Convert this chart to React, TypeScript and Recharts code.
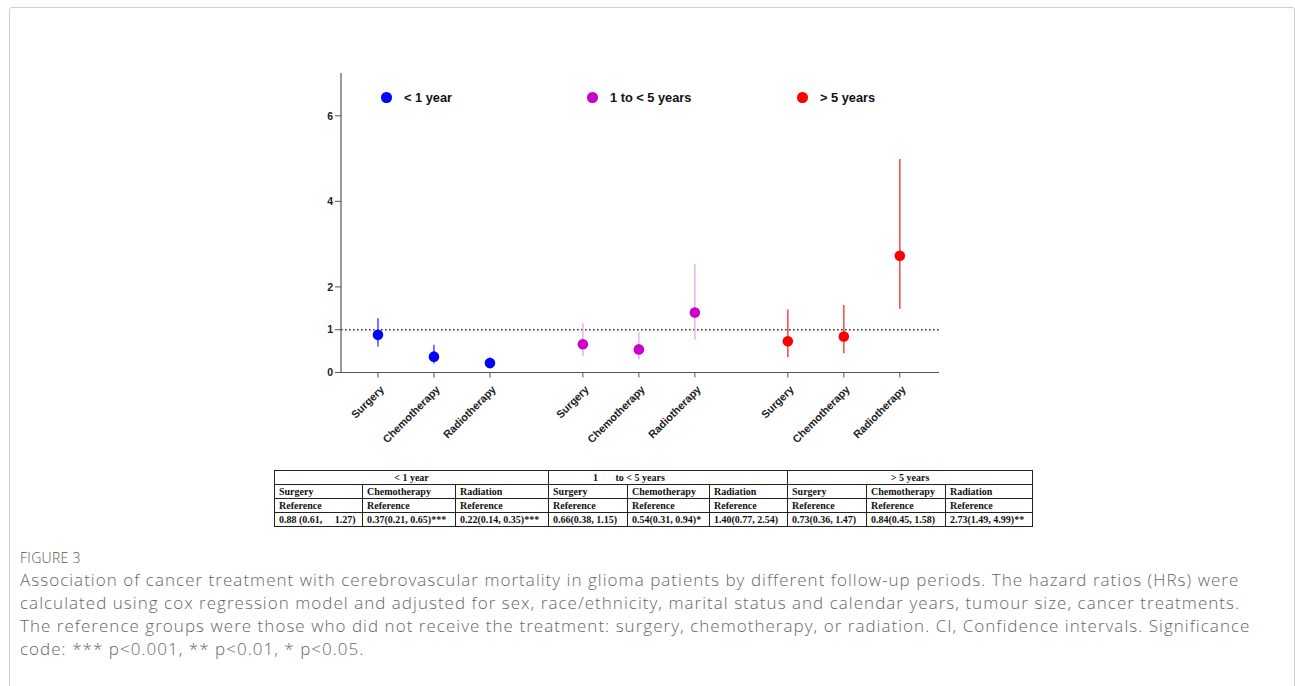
import React from "react";
import {
  ScatterChart,
  Scatter,
  XAxis,
  YAxis,
  ErrorBar,
  ReferenceLine,
  Legend,
} from "recharts";

// follow-up periods and treatments
const periods = ["< 1 year", "1 to < 5 years", "> 5 years"];
const treatments = ["Surgery", "Chemotherapy", "Radiotherapy"];

// hazard ratios with 95% CI, one array per period
const hrUnder1 = [0.88, 0.37, 0.22];
const lowUnder1 = [0.61, 0.21, 0.14];
const highUnder1 = [1.27, 0.65, 0.35];

const hr1to5 = [0.66, 0.54, 1.4];
const low1to5 = [0.38, 0.31, 0.77];
const high1to5 = [1.15, 0.94, 2.54];

const hrOver5 = [0.73, 0.84, 2.73];
const lowOver5 = [0.36, 0.45, 1.49];
const highOver5 = [1.47, 1.58, 4.99];

const yTicks = [0, 1, 2, 4, 6];

// table under the plot
const tableCols = ["Surgery", "Chemotherapy", "Radiation"];
const tableUnder1 = ["0.88 (0.61,\u00a0\u00a0\u00a0\u00a0 1.27)", "0.37(0.21, 0.65)***", "0.22(0.14, 0.35)***"];
const table1to5 = ["0.66(0.38, 1.15)", "0.54(0.31, 0.94)*", "1.40(0.77, 2.54)"];
const tableOver5 = ["0.73(0.36, 1.47)", "0.84(0.45, 1.58)", "2.73(1.49, 4.99)**"];

const captionLines = [
  "Association of cancer treatment with cerebrovascular mortality in glioma patients by different follow-up periods. The hazard ratios (HRs) were",
  "calculated using cox regression model and adjusted for sex, race/ethnicity, marital status and calendar years, tumour size, cancer treatments.",
  "The reference groups were those who did not receive the treatment: surgery, chemotherapy, or radiation. CI, Confidence intervals. Significance",
  "code: *** p<0.001, ** p<0.01, * p<0.05.",
];

const pointColors = ["#0000ff", "#cc00cc", "#ff0000"];
const barColors = ["#4b4bff", "#e8b2e8", "#f04848"];

const GROUP_STEP = 3.66;

const buildSeries = (g: number, hr: number[], lo: number[], hi: number[]) =>
  hr.map((v, i) => ({
    x: g * GROUP_STEP + i,
    y: v,
    err: [v - lo[i], hi[i] - v],
  }));

const series = [
  buildSeries(0, hrUnder1, lowUnder1, highUnder1),
  buildSeries(1, hr1to5, low1to5, high1to5),
  buildSeries(2, hrOver5, lowOver5, highOver5),
];
const xTicks = series.flat().map((d) => d.x);

const chartFont = "'Liberation Sans', Arial, sans-serif";

const XTick = (props: any) => {
  const { x, y, index } = props;
  return (
    <g transform={`translate(${x + 4},${y + 8})`}>
      <text
        transform="rotate(-45)"
        textAnchor="end"
        dy="0.35em"
        fontSize={10.8}
        fontWeight={700}
        fontFamily={chartFont}
        fill="#222"
      >
        {treatments[index % 3]}
      </text>
    </g>
  );
};

const dotShape = (color: string) => (props: any) =>
  <circle cx={props.cx} cy={props.cy} r={5.3} fill={color} />;

const legendX = [11, 217, 427];

const renderLegend = () => (
  <div style={{ position: "relative", width: 560, height: 20 }}>
    {periods.map((p, i) => (
      <div
        key={p}
        style={{
          position: "absolute",
          left: legendX[i],
          top: 0,
          display: "flex",
          alignItems: "center",
          whiteSpace: "nowrap",
        }}
      >
        <span
          style={{
            width: 10.5,
            height: 10.5,
            borderRadius: "50%",
            background: pointColors[i],
            display: "inline-block",
          }}
        />
        <span
          style={{
            marginLeft: 12.5,
            fontFamily: chartFont,
            fontWeight: 700,
            fontSize: 12.8,
            color: "#111",
          }}
        >
          {p}
        </span>
      </div>
    ))}
  </div>
);

const cell: React.CSSProperties = {
  border: "1px solid #222",
  padding: "0 4px",
  height: 13,
  lineHeight: "13px",
  whiteSpace: "nowrap",
  textAlign: "left",
};

export default function App() {
  return (
    <div
      style={{
        position: "absolute",
        left: 0,
        top: 0,
        width: 1295,
        height: 686,
        background: "#fff",
        overflow: "hidden",
      }}
    >
      <div
        style={{
          position: "absolute",
          left: 9,
          top: 7,
          width: 1284,
          height: 700,
          border: "1px solid #cfcfcf",
          borderRadius: 3,
        }}
      />
      <div style={{ position: "absolute", left: 0, top: 0 }}>
        <ScatterChart
          width={1295}
          height={460}
          margin={{ top: 73, right: 356, bottom: 27.5, left: 300 }}
        >
          <XAxis
            type="number"
            dataKey="x"
            domain={[-0.66, 10.02]}
            ticks={xTicks}
            interval={0}
            tick={<XTick />}
            tickLine={{ stroke: "#555" }}
            axisLine={{ stroke: "#555", strokeWidth: 1.2 }}
            tickSize={5}
            height={60}
            allowDataOverflow
          />
          <YAxis
            type="number"
            dataKey="y"
            domain={[0, 7]}
            ticks={yTicks}
            interval={0}
            width={41}
            tickSize={6}
            tickMargin={2}
            tickLine={{ stroke: "#555" }}
            axisLine={{ stroke: "#555", strokeWidth: 1.2 }}
            tick={{ fontSize: 10.5, fontWeight: 700, fill: "#222", fontFamily: chartFont }}
            allowDataOverflow
          />
          <ReferenceLine
            y={1}
            stroke="#333"
            strokeWidth={1.6}
            strokeDasharray="1.6 2.4"
          />
          {series.map((data, g) => (
            <Scatter
              key={periods[g]}
              name={periods[g]}
              data={data}
              fill={pointColors[g]}
              shape={dotShape(pointColors[g])}
              isAnimationActive={false}
            >
              <ErrorBar
                dataKey="err"
                direction="y"
                width={0}
                stroke={barColors[g]}
                strokeWidth={1.5}
                isAnimationActive={false}
              />
            </Scatter>
          ))}
          <Legend
            layout="vertical"
            align="center"
            verticalAlign="middle"
            wrapperStyle={{ left: 370, top: 90, width: 560 }}
            content={renderLegend}
          />
        </ScatterChart>
      </div>

      <table
        style={{
          position: "absolute",
          left: 274,
          top: 470,
          width: 758,
          borderCollapse: "collapse",
          fontFamily: "'Liberation Serif', 'Times New Roman', serif",
          fontWeight: 700,
          fontSize: 10,
          color: "#111",
          tableLayout: "fixed",
        }}
      >
        <colgroup>
          {[88, 93, 93, 79, 82, 78, 79, 79, 87].map((w, i) => (
            <col key={i} style={{ width: w }} />
          ))}
        </colgroup>
        <tbody>
          <tr>
            <td colSpan={3} style={{ ...cell, textAlign: "center" }}>
              {periods[0]}
            </td>
            <td colSpan={3} style={{ ...cell, paddingLeft: 44 }}>
              {"1\u00a0\u00a0\u00a0\u00a0\u00a0\u00a0 to < 5 years"}
            </td>
            <td colSpan={3} style={{ ...cell, textAlign: "center" }}>
              {periods[2]}
            </td>
          </tr>
          <tr>
            {[0, 1, 2].flatMap((g) =>
              tableCols.map((c) => (
                <td key={`${g}-${c}`} style={cell}>
                  {c}
                </td>
              ))
            )}
          </tr>
          <tr>
            {[0, 1, 2].flatMap((g) =>
              tableCols.map((c) => (
                <td key={`ref-${g}-${c}`} style={cell}>
                  Reference
                </td>
              ))
            )}
          </tr>
          <tr>
            {[tableUnder1, table1to5, tableOver5].flatMap((row, g) =>
              row.map((t, i) => (
                <td key={`v-${g}-${i}`} style={cell}>
                  {t}
                </td>
              ))
            )}
          </tr>
        </tbody>
      </table>

      <div
        style={{
          position: "absolute",
          left: 20,
          top: 548,
          fontFamily: "'Open Sans', sans-serif",
          fontSize: 14,
          fontWeight: 300,
          color: "#555",
          letterSpacing: 0.3,
        }}
      >
        FIGURE 3
      </div>
      <div
        style={{
          position: "absolute",
          left: 20,
          top: 568,
          fontFamily: "'Open Sans', sans-serif",
          fontSize: 17,
          fontWeight: 300,
          letterSpacing: 1.03,
          lineHeight: "23px",
          color: "#666",
          whiteSpace: "nowrap",
        }}
      >
        {captionLines.map((l) => (
          <div key={l}>{l}</div>
        ))}
      </div>
    </div>
  );
}
